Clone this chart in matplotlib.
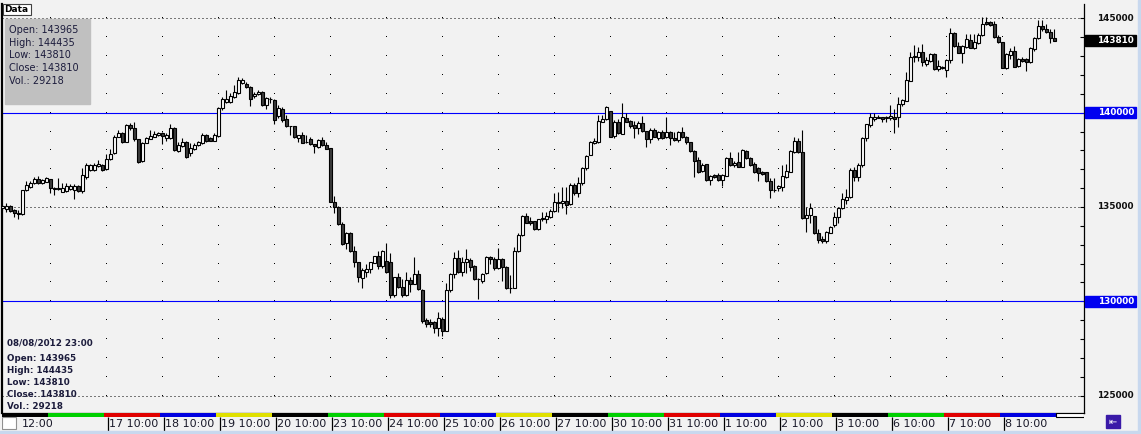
import matplotlib
matplotlib.use('Agg')
import matplotlib.pyplot as plt
from matplotlib.patches import Rectangle
from matplotlib.transforms import blended_transform_factory
import numpy as np

# hourly OHLC, 13 Jul 2012 12:00 .. 08 Aug 2012 23:00 (one row per trading day)
opens = [
    134950, 134910, 135050, 134840, 134700, 134630, 135900, 136040, 136250, 136460, 136250, 136340,
    136460, 136020, 135940, 135810, 135850, 135940, 135900, 136110, 135860, 136570, 136960, 136960, 137170, 137230,
    136990, 137520, 137840, 138730, 138940, 138460, 139340, 139170, 138580, 137450, 138410, 138620, 138730, 138800,
    138940, 138640, 138640, 139170, 137980, 138230, 138460, 137840, 138050, 138280, 138400, 138810, 138640, 138520,
    138760, 140230, 140580, 140580, 140850, 141060, 141580, 141520, 141340, 140880, 141000, 141110, 140400, 140700,
    140670, 139820, 140170, 139640, 139290, 139290, 138670, 138800, 138460, 138600, 138340, 138160, 138550, 138280,
    138110, 135280, 135020, 134080, 133070, 133600, 132670, 132070, 131220, 131570, 131690, 132050, 132400, 131870,
    132150, 132080, 130330, 131270, 130770, 130330, 131130, 130920, 131450, 130600, 129010, 128880, 128880, 128570,
    129060, 128440, 130600, 131450, 132280, 131570, 132100, 132190, 131870, 131160, 131090, 131480, 132330, 132230,
    131780, 132230, 131800, 130720, 130720, 132680, 133510, 134520, 134240, 134240, 133810, 134340, 134340, 134470,
    134790, 135190, 135190, 135320, 135140, 136160, 135720, 136250, 137050, 137750, 138370, 138430, 139520, 139640,
    140090, 138780, 139520, 138870, 139730, 139560, 139340, 139170, 139430, 139030, 138600, 139080, 138670, 138990,
    138730, 138990, 138670, 138550, 138990, 138690, 138430, 137970, 137490, 136900, 137260, 136430, 136690, 136690,
    136410, 136660, 137580, 137220, 137400, 137140, 137970, 137610, 137260, 137050, 136870, 136840, 136380, 135900,
    136030, 136080, 136600, 136870, 137930, 138500, 137900, 134400, 134570, 134520, 133600, 133280, 133210, 133630,
    134040, 134450, 134930, 135370, 135510, 136960, 136570, 137220, 138640, 139340, 139650, 139700, 139750, 139700,
    139700, 139750, 139750, 140440, 140630, 141700, 142930, 142970, 143230, 142580, 142750, 143110, 142290, 142350,
    142260, 142790, 144200, 143530, 143180, 143500, 143850, 143410, 143710, 144110, 144800, 144800, 144700, 144030,
    143760, 142350, 143060, 143270, 142470, 142860, 142830, 142700, 143350, 143940, 144590, 144420, 144290, 143965,
]
highs = [
    135100, 135190, 135100, 134900, 134840, 135900, 136390, 136360, 136570, 136640, 136480, 136570,
    136500, 136060, 136520, 136290, 136290, 136200, 136200, 136160, 137050, 137310, 137300, 137310, 137490, 137300,
    137810, 138050, 138800, 139080, 139000, 139400, 139430, 139520, 138620, 138450, 138730, 139080, 139040, 139000,
    139000, 138900, 139400, 139220, 138460, 138640, 138500, 138370, 138370, 138500, 138900, 138870, 138700, 138900,
    140290, 140850, 141200, 141020, 141460, 141870, 141820, 141600, 141400, 141100, 141200, 141150, 140850, 140850,
    140700, 140400, 140300, 139870, 139290, 139290, 138820, 138990, 138810, 138730, 138340, 138600, 138690, 138460,
    138150, 135580, 135070, 134180, 133650, 133650, 132950, 132100, 131780, 131960, 132100, 132400, 132660, 132700,
    133100, 132580, 131300, 131510, 131180, 131570, 131310, 132360, 131660, 130630, 129100, 129040, 128970, 129410,
    129180, 130950, 131520, 132630, 132720, 132360, 132750, 132280, 131920, 131220, 131520, 132400, 132400, 132330,
    132800, 132280, 131850, 131390, 132890, 133600, 134570, 134700, 134490, 134280, 134380, 134750, 134710, 134870,
    135720, 135810, 136070, 136070, 136250, 136250, 136600, 137130, 137750, 138500, 138640, 139870, 139870, 140370,
    140090, 139610, 139660, 140490, 139960, 139610, 139560, 139560, 139840, 139050, 139170, 139170, 139030, 139080,
    139780, 139050, 138950, 139030, 139260, 138750, 138460, 138000, 137670, 137320, 137300, 136700, 136730, 136780,
    136750, 137670, 137900, 137440, 137900, 138070, 138020, 137670, 137370, 137140, 136900, 136870, 136520, 136520,
    136160, 137220, 137260, 138020, 138730, 138670, 139080, 135010, 135230, 134520, 133810, 133460, 133740, 133990,
    134750, 135020, 135720, 135930, 137050, 137100, 137310, 138730, 139420, 140000, 140000, 139860, 139790, 139820,
    140400, 140170, 140810, 140700, 142170, 143230, 143580, 143500, 143640, 142970, 143180, 143180, 142790, 142470,
    142830, 144470, 144290, 143730, 143580, 144170, 144150, 144170, 144200, 145050, 145050, 144860, 144860, 144110,
    143760, 143140, 143410, 143530, 142880, 142970, 142880, 143460, 144030, 144910, 144910, 144700, 144430, 144435,
]
lows = [
    134850, 134750, 134750, 134490, 134345, 134600, 135850, 135990, 136200, 136200, 136200, 136300,
    135760, 135640, 135900, 135770, 135800, 135900, 135400, 135800, 135760, 136480, 136900, 136900, 137130, 136900,
    136940, 137480, 137800, 138700, 138400, 138420, 139100, 138520, 137310, 137400, 138370, 138580, 138700, 138750,
    138340, 138520, 138600, 137950, 137930, 138200, 137620, 137700, 138000, 138230, 138350, 138460, 138480, 138480,
    138700, 140140, 140500, 140500, 140800, 141000, 141500, 141300, 140350, 140750, 140950, 140350, 140180, 140530,
    139400, 139700, 139520, 139260, 138810, 138650, 138430, 138380, 138410, 138280, 137880, 138110, 138230, 138070,
    135260, 134700, 134040, 132980, 132770, 132630, 131800, 131040, 130720, 131270, 131480, 132010, 131690, 131750,
    131480, 130150, 130240, 130690, 130210, 130280, 130510, 130900, 130600, 128830, 128650, 128650, 128300, 128160,
    128160, 128440, 130510, 131220, 131480, 131340, 131480, 131620, 131130, 130120, 130950, 131430, 131970, 131660,
    131690, 131090, 130630, 130420, 130700, 132630, 133450, 134130, 134040, 133770, 133770, 134260, 134130, 134400,
    134750, 134710, 134930, 134610, 135100, 135630, 135540, 136160, 136960, 137750, 138320, 138370, 139500, 139600,
    138700, 138670, 138870, 138870, 139500, 139200, 138670, 138850, 139000, 138200, 138370, 138700, 138550, 138600,
    138670, 138280, 138500, 138430, 138640, 138340, 137930, 136600, 136780, 136870, 136390, 136160, 136550, 136380,
    136130, 136620, 137180, 137130, 137100, 137100, 137540, 137180, 136780, 136380, 136690, 136340, 135460, 135810,
    135850, 135850, 136550, 136830, 137840, 137860, 134360, 133690, 134130, 133560, 133110, 133110, 133110, 133600,
    133950, 134170, 134900, 135160, 135460, 136390, 136390, 137100, 138510, 139260, 139570, 139700, 139520, 139520,
    139610, 138940, 139220, 140350, 140600, 141660, 142700, 142750, 142470, 142470, 142700, 142250, 142230, 142290,
    141870, 142610, 143460, 143140, 142650, 143400, 143400, 143350, 143640, 144070, 144650, 144590, 143960, 143670,
    142350, 142290, 142830, 142400, 142440, 142700, 142220, 142650, 143280, 143900, 144340, 144240, 143710, 143810,
]
closes = [
    135050, 135050, 134800, 134700, 134610, 135900, 136165, 136290, 136460, 136250, 136430, 136520,
    135990, 135940, 136020, 136020, 136110, 136110, 136110, 135860, 136690, 137230, 137230, 137230, 137280, 136960,
    137520, 137810, 138730, 138940, 138460, 139340, 139170, 138580, 137400, 138410, 138640, 138760, 138870, 138940,
    138760, 138810, 139170, 138020, 138280, 138460, 137670, 138110, 138280, 138460, 138810, 138500, 138520, 138810,
    140230, 140700, 140700, 140880, 141110, 141730, 141730, 141340, 140700, 141000, 141110, 140400, 140760, 140700,
    139610, 140230, 139610, 139290, 139290, 138690, 138800, 138410, 138460, 138340, 138230, 138550, 138270, 138090,
    135280, 135020, 134080, 133020, 133600, 132670, 132070, 131270, 131660, 131710, 132070, 132400, 131870, 132680,
    131570, 130330, 131270, 130770, 130330, 131130, 130920, 131450, 130630, 128970, 128780, 128800, 128570, 129100,
    128440, 130600, 131450, 132280, 131570, 132100, 132230, 131800, 131160, 131160, 131450, 132330, 132230, 131750,
    132230, 131800, 130720, 130720, 132660, 133510, 134520, 134170, 134170, 133810, 134340, 134400, 134540, 134790,
    135250, 135280, 135320, 135100, 136160, 135720, 136250, 137080, 137720, 138430, 138500, 139560, 139660, 140280,
    138730, 139520, 138900, 139750, 139520, 139310, 139170, 139430, 139030, 138580, 139080, 138730, 138990, 138670,
    138990, 138640, 138530, 138990, 138690, 138430, 137970, 137450, 136840, 137220, 136430, 136640, 136600, 136410,
    136690, 137610, 137220, 137350, 137140, 138020, 137580, 137220, 136870, 136780, 136750, 136380, 135900, 135900,
    136130, 136660, 136900, 137970, 138500, 137900, 134400, 134570, 134930, 133600, 133250, 133210, 133650, 133920,
    134450, 134930, 135400, 135510, 136960, 136570, 137220, 138670, 139380, 139750, 139790, 139790, 139680, 139750,
    139820, 139680, 140440, 140670, 141730, 142930, 143000, 143230, 142700, 142790, 143110, 142290, 142470, 142440,
    142790, 144200, 143530, 143180, 143530, 143880, 143410, 143760, 144110, 144680, 144700, 144650, 143990, 143760,
    142350, 143090, 143270, 142440, 142830, 142750, 142700, 143410, 143940, 144590, 144420, 144290, 143940, 143810,
]

days = ['13', '16', '17', '18', '19', '20', '23', '24', '25', '26', '27',
        '30', '31', '1', '2', '3', '6', '7', '8']
bars_per_day = [12] + [14] * 18
day_colors = ['black', 'green', 'red', 'blue', 'yellow', 'black', 'green', 'red', 'blue', 'yellow',
              'black', 'green', 'red', 'blue', 'yellow', 'black', 'green', 'red', 'blue']
levels = [140000, 130000]
last_info = {'date': '08/08/2012 23:00', 'Open': 143965, 'High': 144435, 'Low': 143810,
             'Close': 143810, 'Vol.': 29218}

W, H = 1141, 434
fig = plt.figure(figsize=(W / 100, H / 100), dpi=100, facecolor='#f2f2f2')


def fx(px):
    return px / W


def fy(py):
    return 1 - py / H


# price <-> pixel: 145000 at y=18.3, 53 per pixel
ppx = 53.0
ymax = 145000 + (18.3 - 4) * ppx
ymin = 145000 - (413 - 18.3) * ppx
xmin = (2 - 2.33) / 4
xmax = (1084 - 2.33) / 4

ax = fig.add_axes([fx(2), fy(413), fx(1084) - fx(2), fy(4) - fy(413)])
ax.set_facecolor('#f2f2f2')
ax.set_xlim(xmin, xmax)
ax.set_ylim(ymin, ymax)

o = np.array(opens, float)
h = np.array(highs, float)
l = np.array(lows, float)
c = np.array(closes, float)
x = np.arange(len(c))

starts = np.cumsum([0] + bars_per_day[:-1])

# grid: dotted horizontal lines every 5000, dotted columns at day starts
for p in [125000, 135000, 145000]:
    ax.axhline(p, color='black', lw=0.72, ls=(0, (1, 3)), zorder=1)
gx, gy = np.meshgrid(starts[1:], np.arange(124000, 146000, 1000))
ax.plot(gx.ravel(), gy.ravel(), ',', color='black', zorder=1)

for lv in levels:
    ax.axhline(lv, color='#0000ff', lw=0.8, zorder=2)

up = c >= o
ax.vlines(x, l, h, color='black', lw=0.8, zorder=3)
ax.bar(x, np.abs(c - o), bottom=np.minimum(o, c), width=0.6,
       color=np.where(up, 'white', '#3c3c3c'), edgecolor='black', linewidth=0.8, zorder=4)

ax.spines['top'].set_visible(False)
ax.spines['left'].set_linewidth(1.6)
ax.spines['right'].set_linewidth(0.9)
ax.spines['bottom'].set_linewidth(0.9)
ax.set_xticks([])
ax.yaxis.tick_right()
ax.set_yticks(np.arange(125000, 146000, 1000))
ax.tick_params(axis='y', direction='in', length=3, width=0.8, labelright=False)

# right price labels
trans = blended_transform_factory(fig.transFigure, ax.transData)
for p in range(125000, 146000, 5000):
    if p in levels:
        continue
    ax.text(fx(1134), p, str(p), transform=trans, ha='right', va='center',
            fontsize=6.4, fontweight='bold', color='#101010', clip_on=False)
box_h = 11 * ppx
for p, col in [(levels[0], '#0000f0'), (levels[1], '#0000f0'), (c[-1], 'black')]:
    ax.add_patch(Rectangle((fx(1085), p - box_h / 2), fx(1136) - fx(1085), box_h,
                           transform=trans, color=col, clip_on=False, zorder=5))
    ax.text(fx(1134), p, str(int(p)), transform=trans, ha='right', va='center',
            fontsize=6.4, fontweight='bold', color='white', clip_on=False, zorder=6)

# top-left data box
fig.patches.append(Rectangle((fx(5), fy(104)), fx(90) - fx(5), fy(19) - fy(104),
                             transform=fig.transFigure, color='#c0c0c0', zorder=10))
info = [f'{k}: {v}' for k, v in last_info.items() if k != 'date']
for j, t in enumerate(info):
    fig.text(fx(9), fy(30 + 12.7 * j), t, fontsize=7, color='#1c1c3c', va='center', zorder=11)

fig.patches.append(Rectangle((fx(3), fy(15)), fx(31) - fx(3), fy(4) - fy(15),
                             transform=fig.transFigure, facecolor='white', edgecolor='#404040',
                             lw=0.8, zorder=10))
fig.text(fx(4.5), fy(9.8), 'Data', fontsize=6.5, fontweight='bold', color='black',
         va='center', zorder=11)

# bottom-left data
fig.text(fx(7), fy(342.7), last_info['date'], fontsize=6.3, fontweight='bold',
         color='#1c1c3c', va='center', zorder=11)
for j, t in enumerate(info):
    fig.text(fx(7), fy(358.3 + 12.1 * j), t, fontsize=6.3, fontweight='bold',
             color='#1c1c3c', va='center', zorder=11)

# time strip
axt = fig.add_axes([fx(2), fy(432), fx(1084) - fx(2), fy(413) - fy(432)])
axt.set_xlim(xmin, xmax)
axt.set_ylim(432, 413)
axt.axis('off')
cmap = {'black': 'black', 'green': '#00d000', 'red': '#e00000', 'blue': '#0000e0', 'yellow': '#e0e000'}
edges = list(starts - 0.5) + [len(c) - 0.5]
edges[0] = xmin
for k, col in enumerate(day_colors):
    axt.add_patch(Rectangle((edges[k], 413.5), edges[k + 1] - edges[k], 3.5, color=cmap[col], lw=0))
axt.add_patch(Rectangle((edges[-1], 413.5), xmax - edges[-1], 3.5, facecolor='white',
                        edgecolor='black', lw=0.8))
axt.add_patch(Rectangle((xmin, 417), 3.6, 12.5, facecolor='white', edgecolor='#909090', lw=0.8))
axt.text(xmin + 5, 424.5, '12:00', fontsize=8, color='#1a1a2a', va='center')
for k in range(2, len(days)):
    tx = starts[k] + 0.3
    axt.vlines(tx, 417, 432, color='black', lw=0.9)
    axt.text(tx + 0.3, 424.5, f'{days[k]} 10:00', fontsize=8, color='#1a1a2a', va='center')

# bottom-right button
fig.patches.append(Rectangle((fx(1106), fy(428)), fx(1120) - fx(1106), fy(415) - fy(428),
                             transform=fig.transFigure, color='#3a1aa8', zorder=10))
fig.text(fx(1113), fy(421.5), '⇤', fontsize=7, color='white', ha='center', va='center', zorder=11)

# window border
fig.patches.append(Rectangle((0, 0), 1, fy(431), transform=fig.transFigure, color='#c8d8ee', zorder=0))
fig.patches.append(Rectangle((fx(1137.5), 0), 1 - fx(1137.5), 1, transform=fig.transFigure,
                             color='#c8d8ee', zorder=0))

fig.savefig('out.png', dpi=100, facecolor=fig.get_facecolor())
